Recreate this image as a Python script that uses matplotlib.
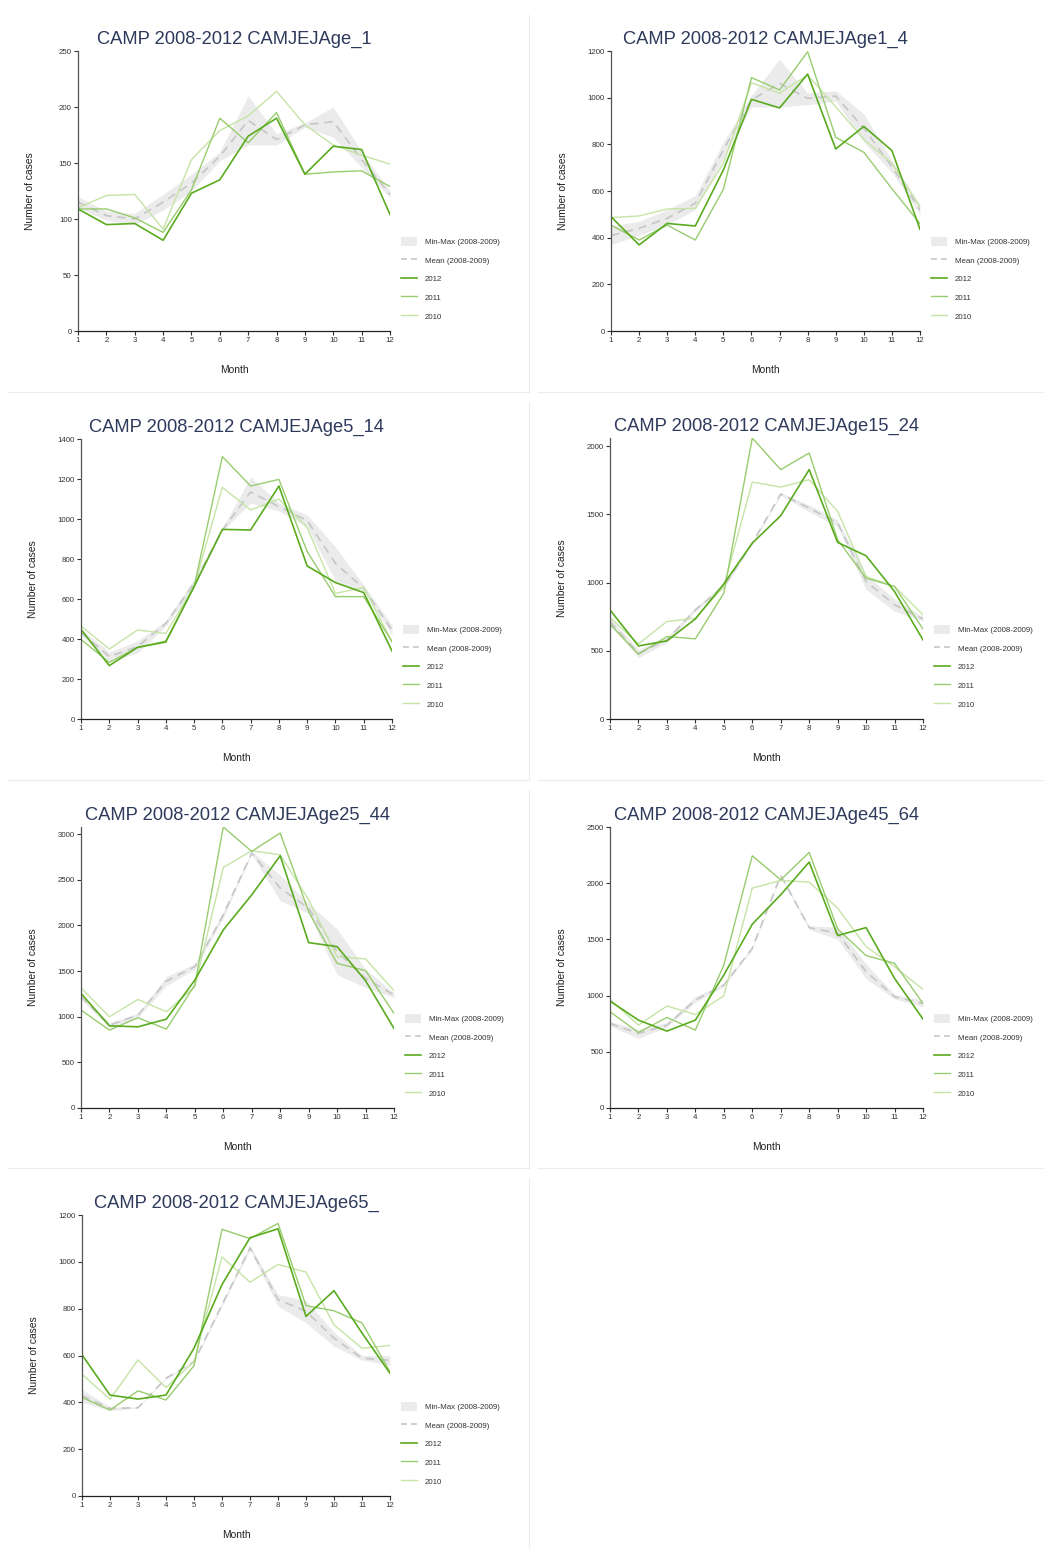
import matplotlib
matplotlib.use("Agg")
import matplotlib.pyplot as plt
from matplotlib.lines import Line2D
from matplotlib.patches import Patch

plt.rcParams['font.family'] = ['Liberation Sans', 'DejaVu Sans']

months = list(range(1, 13))

# CAMJEJAge_1
age_1_2012 = [109, 95, 96, 81, 123, 135, 174, 190, 140, 165, 162, 104]
age_1_2011 = [109, 109, 101, 88, 126, 190, 168, 195, 140, 142, 143, 129]
age_1_2010 = [110, 121, 122, 91, 153, 179, 192, 214, 184, 166, 157, 149]
age_1_mean = [115, 103, 100, 115, 132, 156, 188, 171, 184, 187, 153, 122]
age_1_min = [110, 99, 95, 108, 125, 152, 166, 166, 182, 173, 146, 119]
age_1_max = [120, 107, 105, 122, 140, 160, 210, 176, 186, 200, 160, 125]

# CAMJEJAge1_4
age1_4_2012 = [490, 369, 461, 450, 690, 993, 956, 1101, 780, 877, 773, 436]
age1_4_2011 = [454, 390, 454, 390, 607, 1086, 1033, 1197, 830, 766, 610, 460]
age1_4_2010 = [486, 493, 523, 526, 719, 1064, 1019, 1097, 961, 821, 719, 533]
age1_4_mean = [409, 440, 483, 547, 776, 990, 1061, 997, 1007, 869, 704, 519]
age1_4_min = [370, 410, 455, 520, 740, 960, 960, 970, 985, 810, 680, 500]
age1_4_max = [450, 470, 520, 580, 810, 1010, 1165, 1020, 1030, 930, 730, 540]

# CAMJEJAge5_14
age5_14_2012 = [448, 267, 358, 385, 662, 948, 945, 1165, 765, 682, 632, 340]
age5_14_2011 = [398, 283, 358, 390, 662, 1312, 1165, 1198, 837, 612, 612, 387]
age5_14_2010 = [465, 350, 445, 428, 662, 1158, 1045, 1100, 957, 628, 658, 387]
age5_14_mean = [433, 312, 362, 478, 678, 945, 1135, 1062, 992, 778, 653, 445]
age5_14_min = [420, 290, 330, 465, 660, 940, 1080, 1040, 960, 690, 640, 420]
age5_14_max = [450, 335, 390, 490, 700, 955, 1210, 1080, 1020, 860, 670, 470]

# CAMJEJAge15_24
age15_24_2012 = [800, 536, 573, 734, 991, 1290, 1491, 1829, 1295, 1197, 935, 580]
age15_24_2011 = [695, 475, 605, 588, 923, 2061, 1829, 1951, 1315, 1033, 972, 661]
age15_24_2010 = [744, 551, 715, 739, 972, 1738, 1701, 1755, 1523, 1045, 972, 764]
age15_24_mean = [715, 482, 580, 800, 972, 1290, 1650, 1547, 1437, 1009, 837, 734]
age15_24_min = [690, 450, 560, 790, 960, 1280, 1640, 1520, 1410, 950, 790, 720]
age15_24_max = [740, 510, 600, 820, 990, 1300, 1660, 1570, 1460, 1060, 880, 750]

# CAMJEJAge25_44
age25_44_2012 = [1255, 900, 889, 973, 1401, 1950, 2334, 2762, 1811, 1767, 1394, 871]
age25_44_2011 = [1072, 853, 988, 864, 1347, 3077, 2810, 3011, 2151, 1584, 1504, 1036]
age25_44_2010 = [1317, 999, 1189, 1054, 1328, 2634, 2817, 2773, 2280, 1658, 1632, 1284]
age25_44_mean = [1218, 907, 1017, 1390, 1548, 2115, 2792, 2408, 2188, 1712, 1420, 1237]
age25_44_min = [1190, 880, 990, 1340, 1520, 2080, 2780, 2270, 2130, 1460, 1320, 1210]
age25_44_max = [1240, 930, 1040, 1440, 1580, 2150, 2810, 2550, 2240, 1960, 1520, 1260]

# CAMJEJAge45_64
age45_64_2012 = [951, 782, 684, 782, 1183, 1635, 1897, 2188, 1534, 1605, 1153, 791]
age45_64_2011 = [856, 672, 806, 693, 1272, 2244, 2030, 2274, 1593, 1356, 1287, 930]
age45_64_2010 = [966, 737, 907, 832, 999, 1956, 2024, 2010, 1778, 1436, 1257, 1055]
age45_64_mean = [752, 663, 737, 960, 1094, 1421, 2069, 1605, 1555, 1213, 990, 930]
age45_64_min = [730, 620, 720, 940, 1080, 1410, 2060, 1590, 1500, 1150, 970, 900]
age45_64_max = [770, 700, 760, 990, 1110, 1430, 2080, 1620, 1610, 1280, 1010, 960]

# CAMJEJAge65_
age65_2012 = [603, 431, 414, 431, 631, 903, 1103, 1141, 767, 877, 696, 524]
age65_2011 = [421, 367, 449, 410, 556, 1139, 1099, 1164, 813, 791, 739, 531]
age65_2010 = [520, 413, 581, 463, 574, 1021, 913, 989, 956, 731, 631, 643]
age65_mean = [429, 374, 377, 503, 574, 817, 1060, 839, 789, 674, 589, 579]
age65_min = [400, 365, 375, 500, 570, 810, 1050, 810, 740, 640, 580, 560]
age65_max = [455, 380, 380, 505, 580, 825, 1070, 860, 835, 700, 600, 600]

titles = ["CAMP 2008-2012 CAMJEJAge_1", "CAMP 2008-2012 CAMJEJAge1_4",
          "CAMP 2008-2012 CAMJEJAge5_14", "CAMP 2008-2012 CAMJEJAge15_24",
          "CAMP 2008-2012 CAMJEJAge25_44", "CAMP 2008-2012 CAMJEJAge45_64",
          "CAMP 2008-2012 CAMJEJAge65_"]
series = [
    (age_1_2012, age_1_2011, age_1_2010, age_1_mean, age_1_min, age_1_max),
    (age1_4_2012, age1_4_2011, age1_4_2010, age1_4_mean, age1_4_min, age1_4_max),
    (age5_14_2012, age5_14_2011, age5_14_2010, age5_14_mean, age5_14_min, age5_14_max),
    (age15_24_2012, age15_24_2011, age15_24_2010, age15_24_mean, age15_24_min, age15_24_max),
    (age25_44_2012, age25_44_2011, age25_44_2010, age25_44_mean, age25_44_min, age25_44_max),
    (age45_64_2012, age45_64_2011, age45_64_2010, age45_64_mean, age45_64_min, age45_64_max),
    (age65_2012, age65_2011, age65_2010, age65_mean, age65_min, age65_max),
]
ymax = [250, 1200, 1400, 2061, 3077, 2500, 1200]
ystep = [50, 200, 200, 500, 500, 500, 200]

# axes boxes in pixels: left, right, top, bottom
boxes = [(78, 390, 51, 331), (611, 920, 51, 331),
         (81, 392, 439, 719), (610, 923, 438, 719),
         (81, 394, 827, 1108), (610, 923, 827, 1108),
         (82, 390, 1215, 1496)]

W, H = 1045, 1549
c2012, c2011, c2010 = '#5aab1f', '#98cc6e', '#c6e4a6'
c_mean, c_band = '#c6c6c6', '#ebebeb'
navy = '#2e3a5c'
small = 5.7

fig = plt.figure(figsize=(W / 100, H / 100), dpi=100)

# cell separators
sep = '#ececec'
for y0, y1 in [(15, 392), (402, 780), (790, 1168), (1178, 1549)]:
    fig.add_artist(Line2D([529 / W] * 2, [1 - y0 / H, 1 - y1 / H], color=sep, lw=0.8))
for y in [392, 780, 1168]:
    fig.add_artist(Line2D([8 / W, 529 / W], [1 - y / H] * 2, color=sep, lw=0.8))
    fig.add_artist(Line2D([538 / W, 1043 / W], [1 - y / H] * 2, color=sep, lw=0.8))

for i, (l, r, t, b) in enumerate(boxes):
    ax = fig.add_axes([l / W, 1 - b / H, (r - l) / W, (b - t) / H])
    s12, s11, s10, mean, lo, hi = series[i]
    ax.fill_between(months, lo, hi, color=c_band, lw=0)
    ax.plot(months, mean, color=c_mean, lw=1.2, dashes=(5, 3.5))
    ax.plot(months, s10, color=c2010, lw=1.0)
    ax.plot(months, s11, color=c2011, lw=1.0)
    ax.plot(months, s12, color=c2012, lw=1.2)

    ax.set_xlim(1, 12)
    ax.set_ylim(0, ymax[i])
    ax.set_xticks(months)
    ax.set_yticks(range(0, ymax[i] + 1, ystep[i]))
    ax.tick_params(labelsize=small, length=3, width=0.8, pad=1.5, colors='#333333')
    for side in ['top', 'right']:
        ax.spines[side].set_visible(False)
    ax.spines['left'].set_color('#555555')
    ax.spines['bottom'].set_color('#222222')
    ax.spines['left'].set_linewidth(0.9)
    ax.spines['bottom'].set_linewidth(0.9)

    cx = (l + r) / 2
    fig.text(cx / W, 1 - (t - 12) / H, titles[i], ha='center', va='center',
             fontsize=13.2, color=navy)
    fig.text((l - 48) / W, 1 - ((t + b) / 2) / H, "Number of cases", rotation=90,
             ha='center', va='center', fontsize=7.4, color='#222222')
    fig.text(cx / W, 1 - (b + 39) / H, "Month", ha='center', va='center',
             fontsize=7.4, color='#222222')

    handles = [Patch(facecolor=c_band, edgecolor='none', label='Min-Max (2008-2009)'),
               Line2D([], [], color=c_mean, lw=1.2, dashes=(3.5, 2.5), label='Mean (2008-2009)'),
               Line2D([], [], color=c2012, lw=1.2, label='2012'),
               Line2D([], [], color=c2011, lw=1.0, label='2011'),
               Line2D([], [], color=c2010, lw=1.0, label='2010')]
    leg = ax.legend(handles=handles, loc='lower left',
                    bbox_to_anchor=((r + 11) / W, 1 - (b - 10) / H),
                    bbox_transform=fig.transFigure, frameon=False, fontsize=small,
                    borderpad=0, borderaxespad=0, handlelength=2.0, handleheight=1.5,
                    handletextpad=1.0, labelspacing=1.14)
    for txt in leg.get_texts():
        txt.set_color('#333333')

fig.savefig("out.png", dpi=100, facecolor='white')
